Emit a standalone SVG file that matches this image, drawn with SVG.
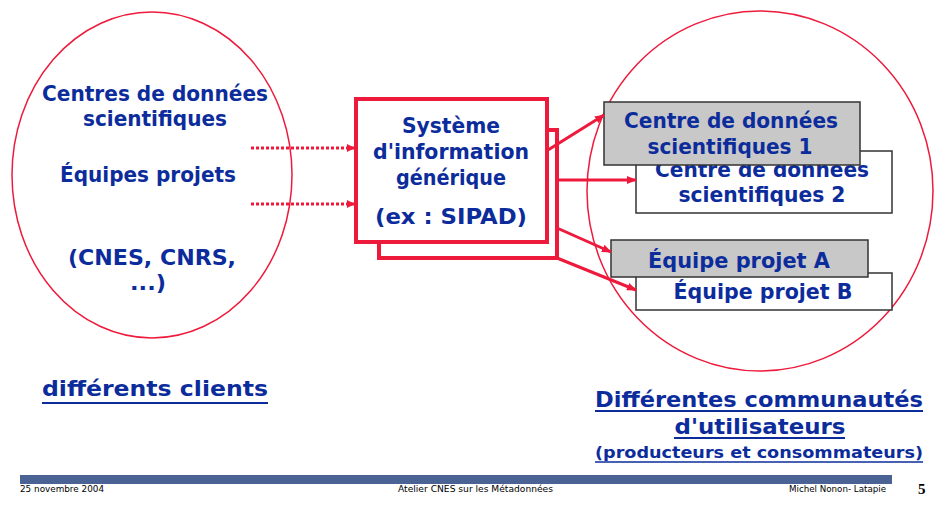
<svg xmlns="http://www.w3.org/2000/svg" width="940" height="508" viewBox="0 0 940 508">
<defs>
<style>
.t{font-family:"DejaVu Sans","Liberation Sans",sans-serif;font-weight:bold;fill:#0c2c9c;text-anchor:middle}
.big{font-size:21px}
.ell{fill:none;stroke:#ee1a3c;stroke-width:1.5}
.box{fill:#fff;stroke:#ee1a3c;stroke-width:4}
.gray{fill:#c8c8c8;stroke:#333;stroke-width:1.5}
.white{fill:#fff;stroke:#333;stroke-width:1.5}
.con{stroke:#ee1a3c;stroke-width:3;fill:none}
.dot{stroke:#ee1a3c;stroke-width:3;fill:none;stroke-dasharray:3 2}
.ft{font-family:"DejaVu Sans","Liberation Sans",sans-serif;font-size:8px;fill:#000}
.ul{stroke:#0c2c9c;stroke-width:2}
</style>
<marker id="ah" markerWidth="10" markerHeight="8" refX="9" refY="4" orient="auto" markerUnits="userSpaceOnUse">
<path d="M0,0 L10,4 L0,8 Z" fill="#ee1a3c"/>
</marker>
<marker id="ahs" markerWidth="8" markerHeight="8" refX="7" refY="4" orient="auto" markerUnits="userSpaceOnUse">
<path d="M0,0 L8,4 L0,8 Z" fill="#ee1a3c"/>
</marker>
</defs>
<rect width="940" height="508" fill="#fff"/>

<g id="clients">
<ellipse class="ell" cx="152" cy="175" rx="140" ry="163"/>
<text class="t big" x="155" y="101" textLength="226" lengthAdjust="spacingAndGlyphs">Centres de données</text>
<text class="t big" x="155" y="126" textLength="144" lengthAdjust="spacingAndGlyphs">scientifiques</text>
<text class="t big" x="148" y="182" textLength="176" lengthAdjust="spacingAndGlyphs">Équipes projets</text>
<text class="t big" x="152" y="265" textLength="168" lengthAdjust="spacingAndGlyphs">(CNES, CNRS,</text>
<text class="t big" x="148" y="290" textLength="36" lengthAdjust="spacingAndGlyphs">...)</text>
</g>

<g id="label-clients">
<text class="t" style="font-size:22px" x="155" y="396" textLength="226" lengthAdjust="spacingAndGlyphs">différents clients</text>
<line class="ul" x1="42" y1="403" x2="268" y2="403"/>
</g>

<g id="users">
<ellipse class="ell" cx="760" cy="191" rx="173" ry="180"/>
</g>

<g id="sipad">
<rect class="box" x="379" y="130" width="178" height="128"/>
<rect class="box" x="356" y="99" width="191" height="143"/>
<text class="t big" x="451" y="133" textLength="98" lengthAdjust="spacingAndGlyphs">Système</text>
<text class="t big" x="451" y="159" textLength="156" lengthAdjust="spacingAndGlyphs">d'information</text>
<text class="t big" x="451" y="185" textLength="110" lengthAdjust="spacingAndGlyphs">générique</text>
<text class="t big" x="451" y="224" textLength="152" lengthAdjust="spacingAndGlyphs">(ex : SIPAD)</text>
</g>

<g id="cds2">
<rect class="white" x="636" y="151" width="256" height="62"/>
<text class="t big" x="762" y="177" textLength="214" lengthAdjust="spacingAndGlyphs">Centre de données</text>
<text class="t big" x="762" y="202" textLength="167" lengthAdjust="spacingAndGlyphs">scientifiques 2</text>
</g>
<g id="cds1">
<rect class="gray" x="604" y="102" width="256" height="63"/>
<text class="t big" x="731" y="128" textLength="214" lengthAdjust="spacingAndGlyphs">Centre de données</text>
<text class="t big" x="730" y="154" textLength="165" lengthAdjust="spacingAndGlyphs">scientifiques 1</text>
</g>
<g id="epB">
<rect class="white" x="636" y="273" width="256" height="37"/>
<text class="t big" x="763" y="299" textLength="179" lengthAdjust="spacingAndGlyphs">Équipe projet B</text>
</g>
<g id="epA">
<rect class="gray" x="611" y="240" width="257" height="37"/>
<text class="t big" x="739" y="268" textLength="182" lengthAdjust="spacingAndGlyphs">Équipe projet A</text>
</g>

<g id="connectors">
<line class="dot" x1="251" y1="148" x2="354" y2="148" marker-end="url(#ahs)"/>
<line class="dot" x1="251" y1="204" x2="354" y2="204" marker-end="url(#ahs)"/>
<line class="con" x1="548" y1="150" x2="604" y2="115" marker-end="url(#ah)"/>
<line class="con" x1="557" y1="180" x2="636" y2="180" marker-end="url(#ah)"/>
<line class="con" x1="557" y1="228" x2="611" y2="252" marker-end="url(#ah)"/>
<line class="con" x1="557" y1="258" x2="636" y2="290" marker-end="url(#ah)"/>
</g>

<g id="label-users">
<text class="t" style="font-size:22px" x="759" y="407" textLength="328" lengthAdjust="spacingAndGlyphs">Différentes communautés</text>
<line class="ul" x1="595" y1="411" x2="923" y2="411"/>
<text class="t" style="font-size:22px" x="760" y="434" textLength="171" lengthAdjust="spacingAndGlyphs">d'utilisateurs</text>
<line class="ul" x1="674" y1="438" x2="845" y2="438"/>
<text class="t" style="font-size:16px" x="759" y="458" textLength="328" lengthAdjust="spacingAndGlyphs">(producteurs et consommateurs)</text>
<line class="ul" x1="595" y1="462" x2="923" y2="462" style="stroke-width:1.5"/>
</g>

<g id="footer">
<rect x="20" y="475" width="872" height="9" fill="#4a6294"/>
<text class="ft" x="20" y="492" textLength="84" lengthAdjust="spacingAndGlyphs">25 novembre 2004</text>
<text class="ft" x="398" y="492" textLength="155" lengthAdjust="spacingAndGlyphs">Atelier CNES sur les Métadonnées</text>
<text class="ft" x="789" y="492" textLength="97" lengthAdjust="spacingAndGlyphs">Michel Nonon- Latapie</text>
<text x="918" y="494" style="font-family:'Liberation Serif',serif;font-weight:bold;font-size:15px;fill:#000">5</text>
</g>
</svg>
